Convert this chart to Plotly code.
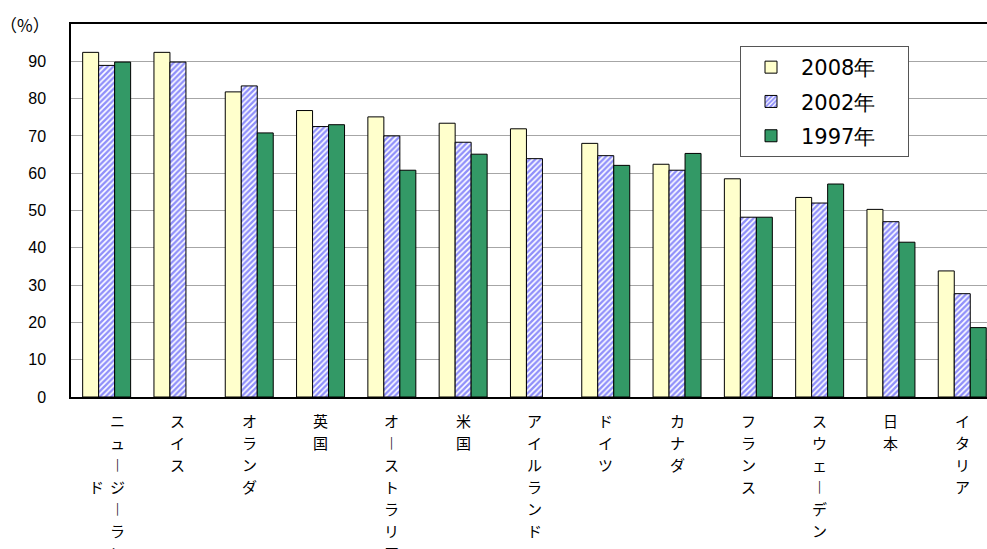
import plotly.graph_objects as go

countries = ["ニュージーランド", "スイス", "オランダ", "英国", "オーストラリア", "米国", "アイルランド",
             "ドイツ", "カナダ", "フランス", "スウェーデン", "日本", "イタリア"]
v2008 = [92.4, 92.4, 81.8, 76.8, 75.1, 73.4, 71.9, 68.0, 62.4, 58.5, 53.5, 50.3, 33.8]
v2002 = [88.9, 89.8, 83.4, 72.5, 70.0, 68.3, 63.9, 64.7, 60.8, 48.2, 52.0, 47.0, 27.7]
v1997 = [89.8, None, 70.8, 73.0, 60.8, 65.1, None, 62.1, 65.3, 48.2, 57.1, 41.5, 18.6]
yticks = list(range(0, 100, 10))
series_names = ["2008年", "2002年", "1997年"]

NB = "\u00a0" * 4
x = list(range(len(countries)))
fig = go.Figure()
fig.add_bar(x=x, y=v2008, name=series_names[0] + NB, legendgroup="a",
            marker=dict(color="#FFFFCC", line=dict(color="#000000", width=1)))
fig.add_bar(x=x, y=v2002, name=series_names[1] + NB, legendgroup="b",
            marker=dict(color="#FFFFFF", line=dict(color="#000000", width=1),
                        pattern=dict(shape="/", size=4, solidity=0.6, fgcolor="#1F1FF5",
                                     bgcolor="#FFFFFF", fillmode="overlay")))
fig.add_bar(x=x, y=v1997, name=series_names[2] + NB, legendgroup="c",
            marker=dict(color="#339966", line=dict(color="#000000", width=1)))

# vertical writing: the long-vowel mark takes its vertical presentation form
VERT = {"ー": "︱"}
PITCH = 22
annots = []

def add_column(i, chars, xshift, row0):
    for k, c in enumerate(chars):
        is_bar = c == "ー"
        annots.append(dict(x=i, y=0, xref="x", yref="paper", text=VERT.get(c, c), showarrow=False,
                           xanchor="center", yanchor="top", xshift=xshift, borderpad=0,
                           yshift=-12 - (row0 + k) * PITCH,
                           font=dict(family="Noto Sans CJK JP", size=15, color="#000",
                                     weight=700 if is_bar else 400)))

for i, name in enumerate(countries):
    if len(name) > 7:
        add_column(i, name[:7], 11, 0)
        add_column(i, name[7:], -10, 3)
    else:
        add_column(i, name, 0, 0)

annots.append(dict(x=-(71 - 25) / 916, y=(397 - 24) / 373, xref="paper", yref="paper",
                   text="（%）", showarrow=False, xanchor="center", yanchor="middle",
                   font=dict(family="Noto Sans CJK JP", size=17, color="#000")))

fig.update_layout(
    width=987, height=549,
    margin=dict(l=71, r=0, t=24, b=152),
    paper_bgcolor="white", plot_bgcolor="white",
    barmode="group", bargap=0.327, bargroupgap=0,
    showlegend=True,
    legend=dict(x=(740 - 71) / 916, y=(397 - 46) / 373, xanchor="left", yanchor="top",
                bordercolor="#555555", borderwidth=1, bgcolor="white",
                font=dict(family="DejaVu Sans", size=21, color="#000"),
                traceorder="grouped", tracegroupgap=4, itemwidth=50),
    annotations=annots,
    font=dict(family="Liberation Sans", color="#000"),
)
fig.update_xaxes(range=[-0.5, -0.5 + 916 / 71.3], showticklabels=False, ticks="",
                 showline=True, linecolor="#000", linewidth=1.5, mirror=True,
                 showgrid=False, zeroline=False, fixedrange=True)
fig.update_yaxes(range=[0, 100], tickvals=yticks, ticks="", ticklabelstandoff=20,
                 tickfont=dict(family="Liberation Sans", size=16, color="#000"),
                 showline=True, linecolor="#000", linewidth=1.5,
                 showgrid=True, gridcolor="#A6A6A6", gridwidth=1, zeroline=False)

fig.write_html("out.html")
